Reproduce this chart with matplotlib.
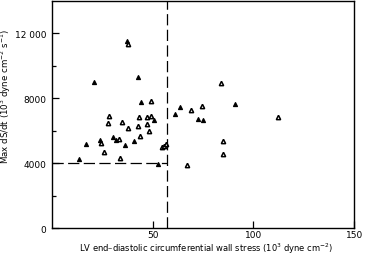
import matplotlib
matplotlib.use("Agg")
import matplotlib.pyplot as plt
from matplotlib.ticker import FixedLocator

# Filled triangles
x_filled = [13.5, 16.8, 20.9, 23.9, 30.4, 36.4, 37.1, 40.8, 42.7, 44.5, 50.7,
            52.6, 61.0, 63.5, 72.4, 74.9, 90.7, 31.8]
y_filled = [4250, 5210, 9020, 5410, 5620, 5150, 11530, 5380, 9330, 7740, 6650,
            3970, 7020, 7480, 6740, 6690, 7620, 5410]
# Open triangles
x_open = [24.2, 26.0, 27.7, 28.2, 33.4, 33.9, 34.6, 37.9, 37.9, 42.8, 43.2,
          43.7, 47.3, 47.3, 48.1, 49.0, 49.1, 54.7, 55.7, 56.5, 66.9, 69.0,
          74.5, 83.8, 84.9, 84.9, 112.0]
y_open = [5250, 4700, 6450, 6900, 5520, 4330, 6530, 11370, 6150, 6280, 6820,
          5690, 6820, 6400, 5990, 6880, 7850, 5000, 5070, 5170, 3870, 7250,
          7500, 8920, 5350, 4550, 6840]

x_cut = 57.2
y_cut = 4000

yticks = [0, 4000, 8000, 12000]
yticklabels = ["0", "4000", "8000", "12 000"]
yminor = [2000, 6000, 10000]
xticks = [50, 100, 150]
xticklabels = ["50", "100", "150"]

fig = plt.figure(figsize=(3.67, 2.55), dpi=100)
ax = fig.add_axes([0.141, 0.101, 0.824, 0.892])

ax.plot(x_filled, y_filled, linestyle="none", marker="^", markersize=3.0,
        markerfacecolor="black", markeredgecolor="black", markeredgewidth=0.8)
ax.plot(x_open, y_open, linestyle="none", marker="^", markersize=3.1,
        markerfacecolor="white", markeredgecolor="black", markeredgewidth=1.1)

ax.plot([x_cut, x_cut], [0, 14000], color="black", lw=0.9,
        dashes=(9, 3.5))
ax.plot([0, x_cut], [y_cut, y_cut], color="black", lw=0.9,
        dashes=(9, 3.5))

ax.set_xlim(0, 150)
ax.set_ylim(0, 14000)
ax.set_yticks(yticks)
ax.set_yticklabels(yticklabels)
ax.yaxis.set_minor_locator(FixedLocator(yminor))
ax.set_xticks(xticks)
ax.set_xticklabels(xticklabels)

ax.tick_params(which="major", direction="in", length=5, width=0.9,
               labelsize=6.5, pad=4, color="black")
ax.tick_params(which="minor", direction="in", length=3, width=0.9)
ax.tick_params(axis="x", which="major", pad=1.5)
for s in ax.spines.values():
    s.set_linewidth(1.0)
    s.set_color("black")

ax.set_xlabel("LV end\u2013diastolic circumferential wall stress (10$^3$ dyne cm$^{-2}$)",
              fontsize=6.0)
ax.xaxis.set_label_coords(0.51, -0.054)
ax.set_ylabel("Max dS/dt (10$^3$ dyne cm$^{-2}$ s$^{-1}$)", fontsize=6.2)
ax.yaxis.set_label_coords(-0.128, 0.585)

fig.savefig("out.png", dpi=100)
